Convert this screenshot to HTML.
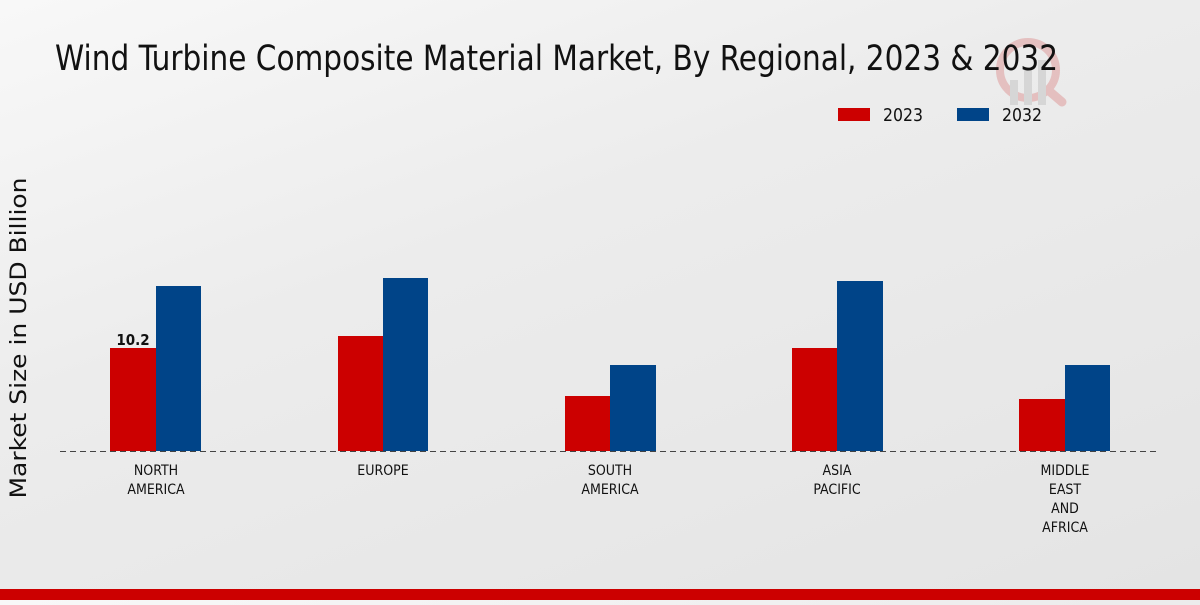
<!DOCTYPE html>
<html><head><style>
html,body{margin:0;padding:0;}
body{width:1200px;height:600px;overflow:hidden;background:linear-gradient(160deg,#f8f8f8 0%,#ececec 40%,#e4e4e4 100%);}
text{font-family:"DejaVu Sans Condensed","DejaVu Sans","Liberation Sans",sans-serif;}
</style></head><body>
<svg width="1200" height="600" xmlns="http://www.w3.org/2000/svg">
<g opacity="0.25">
<circle cx="1028" cy="70" r="28" fill="none" stroke="#d04040" stroke-width="8"/>
<line x1="1048" y1="90" x2="1062" y2="102" stroke="#d04040" stroke-width="9" stroke-linecap="round"/>
<rect x="1010" y="80" width="8" height="25" fill="#999"/><rect x="1024" y="70" width="8" height="35" fill="#999"/><rect x="1038" y="60" width="8" height="45" fill="#999"/>
</g>
<text x="55" y="70" font-size="35" fill="#111" textLength="1003" lengthAdjust="spacingAndGlyphs">Wind Turbine Composite Material Market, By Regional, 2023 &amp; 2032</text>
<rect x="838" y="108" width="32" height="13" fill="#cc0000"/>
<text x="883" y="121" font-size="18" fill="#111" textLength="40" lengthAdjust="spacingAndGlyphs">2023</text>
<rect x="957" y="108" width="32" height="13" fill="#004488"/>
<text x="1002" y="121" font-size="18" fill="#111" textLength="40" lengthAdjust="spacingAndGlyphs">2032</text>
<text transform="translate(26,338) rotate(-90)" font-size="22" fill="#111" text-anchor="middle" style="font-family:'DejaVu Sans',sans-serif" textLength="321" lengthAdjust="spacingAndGlyphs">Market Size in USD Billion</text>
<rect x="110" y="348" width="46" height="103" fill="#cc0000"/>
<rect x="156" y="286" width="45" height="165" fill="#004488"/>
<rect x="338" y="336" width="45" height="115" fill="#cc0000"/>
<rect x="383" y="278" width="45" height="173" fill="#004488"/>
<rect x="565" y="396" width="45" height="55" fill="#cc0000"/>
<rect x="610" y="365" width="46" height="86" fill="#004488"/>
<rect x="792" y="348" width="45" height="103" fill="#cc0000"/>
<rect x="837" y="281" width="46" height="170" fill="#004488"/>
<rect x="1019" y="399" width="46" height="52" fill="#cc0000"/>
<rect x="1065" y="365" width="45" height="86" fill="#004488"/>
<line x1="60" y1="451.5" x2="1160" y2="451.5" stroke="#444" stroke-width="1" stroke-dasharray="6,4"/>
<text x="133" y="345" font-size="15" font-weight="bold" fill="#111" text-anchor="middle">10.2</text>
<g font-size="14" fill="#111" text-anchor="middle">
<text x="156" y="475">NORTH</text><text x="156" y="494">AMERICA</text>
<text x="383" y="475">EUROPE</text>
<text x="610" y="475">SOUTH</text><text x="610" y="494">AMERICA</text>
<text x="837" y="475">ASIA</text><text x="837" y="494">PACIFIC</text>
<text x="1065" y="475">MIDDLE</text><text x="1065" y="494">EAST</text><text x="1065" y="513">AND</text><text x="1065" y="532">AFRICA</text>
</g>
<rect x="0" y="589" width="1200" height="11" fill="#cc0000"/>
</svg>
</body></html>
